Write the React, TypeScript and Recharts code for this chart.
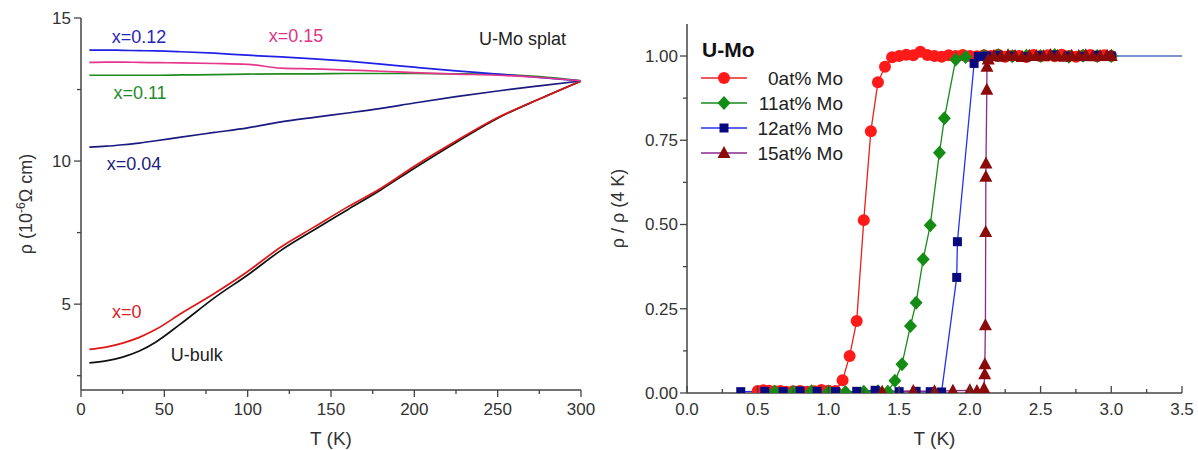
import React from "react";
import { LineChart, Line, XAxis, YAxis, Legend, ReferenceDot } from "recharts";

const FONT = "'Liberation Sans', Arial, Helvetica, sans-serif";
const AXIS = "#444";
const TXT = "#333";

// ---- left panel: resistivity of U-Mo splats vs temperature ----
const splatT = [5, 15, 25, 35, 45, 60, 80, 100, 120, 140, 160, 180, 200, 225, 250, 275, 300];
const rhoX012 = [13.88, 13.88, 13.87, 13.86, 13.85, 13.82, 13.77, 13.7, 13.64, 13.57, 13.49, 13.39, 13.28, 13.15, 13.04, 12.92, 12.8];
const rhoX015 = [13.45, 13.46, 13.46, 13.45, 13.44, 13.43, 13.41, 13.38, 13.25, 13.22, 13.18, 13.14, 13.09, 13.04, 13.0, 12.92, 12.8];
const rhoX011 = [13.0, 13.0, 13.0, 13.0, 13.0, 13.01, 13.02, 13.04, 13.05, 13.05, 13.06, 13.06, 13.06, 13.05, 13.03, 12.95, 12.8];
const rhoX004 = [10.49, 10.52, 10.57, 10.63, 10.71, 10.84, 11.0, 11.16, 11.37, 11.53, 11.68, 11.84, 12.03, 12.25, 12.45, 12.63, 12.8];
const rhoX000 = [3.42, 3.5, 3.64, 3.84, 4.12, 4.67, 5.37, 6.14, 7.0, 7.7, 8.4, 9.05, 9.82, 10.7, 11.52, 12.17, 12.8];
const rhoBulk = [2.95, 3.02, 3.15, 3.36, 3.68, 4.32, 5.22, 6.02, 6.88, 7.6, 8.3, 9.0, 9.75, 10.65, 11.5, 12.17, 12.8];

const leftXTicks = [0, 25, 50, 75, 100, 125, 150, 175, 200, 225, 250, 275, 300];
const leftXMajor = [0, 50, 100, 150, 200, 250, 300];
const leftYTicks = [2.5, 5, 7.5, 10, 12.5, 15];
const leftYMajor = [5, 10, 15];

// ---- right panel: normalised resistivity vs temperature ----
const t0 = [0.5, 0.54, 0.58, 0.62, 0.66, 0.7, 0.75, 0.8, 0.85, 0.9, 0.95, 1.0, 1.05, 1.1, 1.15, 1.2, 1.25, 1.3, 1.35, 1.4, 1.45, 1.5, 1.55, 1.6, 1.65, 1.7, 1.75, 1.8, 1.85, 1.9, 1.95, 2.0, 2.05, 2.1, 2.15, 2.2, 2.25, 2.3, 2.35, 2.4, 2.45, 2.5, 2.55, 2.6, 2.65, 2.7, 2.75, 2.8, 2.85, 2.9, 2.95, 3.0];
const r0 = [0.006, 0.008, 0.007, 0.005, 0.006, 0.004, 0.005, 0.006, 0.004, 0.005, 0.009, 0.007, 0.006, 0.038, 0.11, 0.214, 0.513, 0.777, 0.922, 0.968, 0.996, 1.0, 1.004, 1.002, 1.013, 1.003, 1.0, 0.998, 1.002, 1.0, 1.003, 1.0, 0.999, 1.002, 1.0, 1.004, 0.998, 1.001, 1.0, 0.997, 1.003, 1.0, 1.002, 0.999, 1.004, 1.0, 0.998, 1.001, 1.003, 0.999, 1.002, 1.0];
const t11 = [0.62, 0.75, 0.88, 1.0, 1.12, 1.25, 1.35, 1.42, 1.47, 1.52, 1.58, 1.62, 1.67, 1.72, 1.785, 1.82, 1.9, 1.97, 2.1, 2.2, 2.3, 2.4, 2.5, 2.6, 2.7, 2.8, 2.9, 3.0];
const r11 = [0.004, 0.003, 0.005, 0.004, 0.003, 0.004, 0.005, 0.004, 0.036, 0.085, 0.199, 0.268, 0.397, 0.498, 0.713, 0.815, 0.99, 0.997, 1.0, 1.002, 0.999, 1.001, 1.0, 1.003, 0.998, 1.001, 1.0, 1.0];
const t12 = [0.38, 0.55, 0.68, 0.8, 0.92, 1.05, 1.2, 1.33, 1.5, 1.62, 1.72, 1.8, 1.907, 1.912, 2.03, 2.06, 2.12, 2.2, 2.3, 2.4, 2.5, 2.6, 2.7, 2.8, 2.9, 3.0];
const r12 = [0.004, 0.005, 0.004, 0.006, 0.005, 0.004, 0.005, 0.008, 0.004, 0.005, 0.004, 0.003, 0.343, 0.449, 0.978, 0.999, 1.0, 1.002, 1.0, 0.998, 1.001, 1.003, 1.0, 0.999, 1.002, 1.0];
const t15 = [1.38, 1.6, 1.75, 1.88, 2.0, 2.05, 2.1, 2.105, 2.106, 2.11, 2.112, 2.113, 2.114, 2.12, 2.121, 2.13, 2.17, 2.22, 2.27, 2.32, 2.37, 2.42, 2.47, 2.52, 2.57, 2.62, 2.67, 2.72, 2.77, 2.82, 2.87, 2.92, 2.97, 3.0];
const r15 = [0.004, 0.006, 0.005, 0.007, 0.008, 0.006, 0.013, 0.056, 0.085, 0.201, 0.478, 0.642, 0.681, 0.9, 0.968, 0.99, 1.0, 0.998, 1.002, 1.0, 0.997, 1.001, 1.0, 0.999, 1.003, 1.0, 0.998, 1.001, 1.0, 1.002, 0.999, 1.0, 1.001, 1.0];
const tTail = [3.0, 3.5];
const rTail = [1.0, 1.0];

const rightXTicks = [0, 0.25, 0.5, 0.75, 1, 1.25, 1.5, 1.75, 2, 2.25, 2.5, 2.75, 3, 3.25, 3.5];
const rightXMajor = [0, 0.5, 1, 1.5, 2, 2.5, 3, 3.5];
const rightYTicks = [0, 0.125, 0.25, 0.375, 0.5, 0.625, 0.75, 0.875, 1];
const rightYMajor = [0, 0.25, 0.5, 0.75, 1];

const rows = (ts: number[], vs: number[]) => ts.map((t, i) => ({ t, v: vs[i] }));

const splatSeries = [
  { name: "U-bulk", vals: rhoBulk, color: "#111111" },
  { name: "x=0", vals: rhoX000, color: "#e01515" },
  { name: "x=0.04", vals: rhoX004, color: "#1a1a80" },
  { name: "x=0.11", vals: rhoX011, color: "#1f8c1f" },
  { name: "x=0.12", vals: rhoX012, color: "#2020e6" },
  { name: "x=0.15", vals: rhoX015, color: "#e6368c" },
];

const splatLabels = [
  { text: "x=0.12", t: 34.8, v: 14.34, color: "#2626b8" },
  { text: "x=0.15", t: 129, v: 14.39, color: "#e0338a" },
  { text: "x=0.11", t: 35.4, v: 12.39, color: "#1f8a2a" },
  { text: "x=0.04", t: 31.8, v: 9.91, color: "#1c1c80" },
  { text: "x=0", t: 27.4, v: 4.74, color: "#e0201e" },
  { text: "U-bulk", t: 69.4, v: 3.25, color: "#222222" },
  { text: "U-Mo splat", t: 264.9, v: 14.26, color: "#222222" },
];

const moSeries = [
  { name: "0at% Mo", ts: t0, vs: r0, shape: "circle", fill: "#ff1a1a", line: "#e82222" },
  { name: "11at% Mo", ts: t11, vs: r11, shape: "diamond", fill: "#148c14", line: "#1a8a1a" },
  { name: "12at% Mo", ts: t12, vs: r12, shape: "square", fill: "#0a0a80", line: "#2233ee" },
  { name: "15at% Mo", ts: t15, vs: r15, shape: "triangle", fill: "#8b0a0a", line: "#8a2a8a" },
];

function AxisTick(props: any) {
  const { x, y, payload, side, majors, inward, gap, fmt } = props;
  const v = Number(payload.value);
  const major = majors.some((m: number) => Math.abs(m - v) < 1e-6);
  const len = major ? 7 : 4;
  const out = inward ? -1 : 1;
  let x2 = x;
  let y2 = y;
  if (side === "bottom") y2 = y + out * len;
  if (side === "top") y2 = y - out * len;
  if (side === "left") x2 = x - out * len;
  if (side === "right") x2 = x + out * len;
  let label = null;
  if (fmt && major) {
    if (side === "bottom")
      label = (
        <text x={x} y={y + gap} dy="0.71em" textAnchor="middle" fontSize={17} fill={TXT} fontFamily={FONT}>
          {fmt(v)}
        </text>
      );
    if (side === "left")
      label = (
        <text x={x - gap} y={y} dy="0.35em" textAnchor="end" fontSize={17} fill={TXT} fontFamily={FONT}>
          {fmt(v)}
        </text>
      );
  }
  return (
    <g>
      <line x1={x} y1={y} x2={x2} y2={y2} stroke={AXIS} strokeWidth={1.3} />
      {label}
    </g>
  );
}

function YTitle(props: any) {
  const { viewBox, dx, children } = props;
  const cx = viewBox.x + dx;
  const cy = viewBox.y + viewBox.height / 2;
  return (
    <text x={cx} y={cy} dy="0.35em" transform={`rotate(-90 ${cx} ${cy})`} textAnchor="middle" fontSize={18} fill={TXT} fontFamily={FONT}>
      {children}
    </text>
  );
}

function TextMark(props: any) {
  const { viewBox, text, color } = props;
  return (
    <text x={viewBox.x} y={viewBox.y} dy="0.35em" textAnchor="middle" fontSize={18} fill={color} fontFamily={FONT}>
      {text}
    </text>
  );
}

function Marker({ shape, cx, cy, fill }: { shape: string; cx: number; cy: number; fill: string }) {
  if (shape === "circle") return <circle cx={cx} cy={cy} r={6} fill={fill} />;
  if (shape === "diamond")
    return <polygon points={`${cx},${cy - 7} ${cx + 6.5},${cy} ${cx},${cy + 7} ${cx - 6.5},${cy}`} fill={fill} />;
  if (shape === "square") return <rect x={cx - 4.5} y={cy - 4.5} width={9} height={9} fill={fill} />;
  return <polygon points={`${cx},${cy - 7} ${cx + 6.5},${cy + 5} ${cx - 6.5},${cy + 5}`} fill={fill} />;
}

function MoLegend() {
  return (
    <svg width={150} height={140} style={{ display: "block" }}>
      <text x={2} y={27} fontSize={21} fontWeight="bold" fill="#111" fontFamily={FONT}>
        U-Mo
      </text>
      {moSeries.map((s, i) => {
        const cy = 48 + i * 25;
        return (
          <g key={s.name}>
            <line x1={1} x2={47} y1={cy} y2={cy} stroke={s.line} strokeWidth={1.5} />
            <Marker shape={s.shape} cx={24} cy={cy} fill={s.fill} />
            <text x={143} y={cy} dy="0.35em" textAnchor="end" fontSize={19} fill="#222" fontFamily={FONT}>
              {s.name}
            </text>
          </g>
        );
      })}
    </svg>
  );
}

const axisLine = { stroke: AXIS, strokeWidth: 1.5 };
const fmt0 = (v: number) => String(v);
const fmt1 = (v: number) => v.toFixed(1);
const fmt2 = (v: number) => v.toFixed(2);

function SplatChart() {
  return (
    <LineChart width={600} height={450} margin={{ top: 18, right: 19, bottom: 0, left: 0 }}>
      <XAxis
        type="number"
        dataKey="t"
        domain={[0, 300]}
        allowDataOverflow
        ticks={leftXTicks}
        interval={0}
        height={60}
        tickSize={0}
        tickMargin={0}
        tickLine={false}
        axisLine={axisLine}
        tick={<AxisTick side="bottom" majors={leftXMajor} inward={false} gap={13} fmt={fmt0} />}
        label={{ value: "T (K)", position: "insideBottom", offset: 5, fontSize: 19, fill: TXT, fontFamily: FONT }}
      />
      <XAxis
        xAxisId="top"
        orientation="top"
        type="number"
        domain={[0, 300]}
        allowDataOverflow
        ticks={leftXTicks}
        interval={0}
        height={0}
        tickSize={0}
        tickMargin={0}
        tickLine={false}
        axisLine={axisLine}
        tick={<AxisTick side="top" majors={leftXMajor} inward />}
      />
      <YAxis
        type="number"
        domain={[2, 15]}
        allowDataOverflow
        ticks={leftYTicks}
        interval={0}
        width={81}
        tickSize={0}
        tickMargin={0}
        tickLine={false}
        axisLine={axisLine}
        tick={<AxisTick side="left" majors={leftYMajor} inward={false} gap={10} fmt={fmt0} />}
        label={
          <YTitle dx={26}>
            ρ (10<tspan baselineShift="super" fontSize={12}>-6</tspan>Ω cm)
          </YTitle>
        }
      />
      <YAxis
        yAxisId="right"
        orientation="right"
        type="number"
        domain={[2, 15]}
        allowDataOverflow
        ticks={leftYTicks}
        interval={0}
        width={0}
        tickSize={0}
        tickMargin={0}
        tickLine={false}
        axisLine={axisLine}
        tick={<AxisTick side="right" majors={leftYMajor} inward />}
      />
      {splatSeries.map((s) => (
        <Line
          key={s.name}
          data={rows(splatT, s.vals)}
          dataKey="v"
          type="monotone"
          stroke={s.color}
          strokeWidth={1.7}
          dot={false}
          activeDot={false}
          isAnimationActive={false}
        />
      ))}
      {splatLabels.map((l) => (
        <ReferenceDot key={l.text} x={l.t} y={l.v} r={0} stroke="none" fill="none" label={<TextMark text={l.text} color={l.color} />} />
      ))}
    </LineChart>
  );
}

function MoChart() {
  return (
    <LineChart width={598} height={450} margin={{ top: 24, right: 16, bottom: 0, left: 0 }}>
      <XAxis
        type="number"
        dataKey="t"
        domain={[0, 3.5]}
        allowDataOverflow
        ticks={rightXTicks}
        interval={0}
        height={57}
        tickSize={0}
        tickMargin={0}
        tickLine={false}
        axisLine={axisLine}
        tick={<AxisTick side="bottom" majors={rightXMajor} inward gap={10} fmt={fmt1} />}
        label={{ value: "T (K)", position: "insideBottom", offset: 5, fontSize: 19, fill: TXT, fontFamily: FONT }}
      />
      <XAxis
        xAxisId="top"
        orientation="top"
        type="number"
        domain={[0, 3.5]}
        allowDataOverflow
        ticks={rightXTicks}
        interval={0}
        height={0}
        tickSize={0}
        tickMargin={0}
        tickLine={false}
        axisLine={axisLine}
        tick={<AxisTick side="top" majors={rightXMajor} inward />}
      />
      <YAxis
        type="number"
        domain={[0, 1.095]}
        allowDataOverflow
        ticks={rightYTicks}
        interval={0}
        width={87}
        tickSize={0}
        tickMargin={0}
        tickLine={false}
        axisLine={axisLine}
        tick={<AxisTick side="left" majors={rightYMajor} inward={false} gap={9} fmt={fmt2} />}
        label={<YTitle dx={18}>ρ / ρ (4 K)</YTitle>}
      />
      <YAxis
        yAxisId="right"
        orientation="right"
        type="number"
        domain={[0, 1.095]}
        allowDataOverflow
        ticks={rightYTicks}
        interval={0}
        width={0}
        tickSize={0}
        tickMargin={0}
        tickLine={false}
        axisLine={axisLine}
        tick={<AxisTick side="right" majors={rightYMajor} inward />}
      />
      <Line
        data={rows(tTail, rTail)}
        dataKey="v"
        type="linear"
        stroke="#4f6fbf"
        strokeWidth={1.5}
        dot={false}
        activeDot={false}
        legendType="none"
        isAnimationActive={false}
      />
      {moSeries.map((s) => (
        <Line
          key={s.name}
          name={s.name}
          data={rows(s.ts, s.vs)}
          dataKey="v"
          type="linear"
          stroke={s.line}
          strokeWidth={1.3}
          activeDot={false}
          dot={(p: any) => <Marker key={`${s.name}-${p.index}`} shape={s.shape} cx={p.cx} cy={p.cy} fill={s.fill} />}
          isAnimationActive={false}
        />
      ))}
      <Legend
        layout="vertical"
        align="center"
        verticalAlign="middle"
        wrapperStyle={{ left: 100, top: 30, width: 150, height: 140 }}
        content={() => <MoLegend />}
      />
    </LineChart>
  );
}

export default function App() {
  return (
    <div style={{ position: "absolute", left: 0, top: 0, width: 1198, height: 450, background: "#fff", display: "flex" }}>
      <SplatChart />
      <MoChart />
    </div>
  );
}
